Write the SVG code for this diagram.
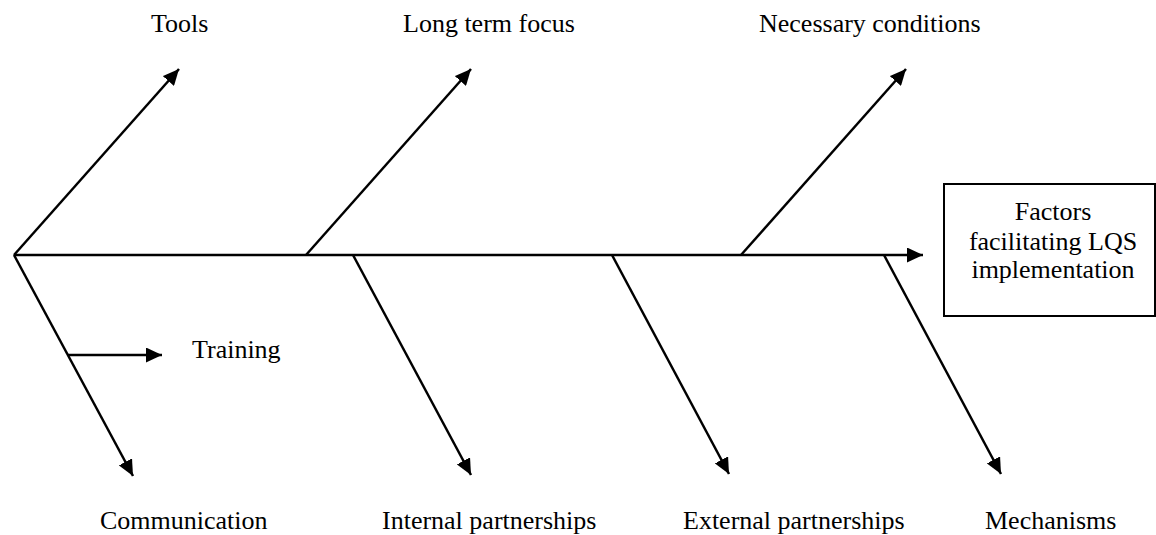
<svg xmlns="http://www.w3.org/2000/svg" width="1156" height="535" viewBox="0 0 1156 535">
  <defs>
    <marker id="arrow" markerUnits="userSpaceOnUse" markerWidth="17" markerHeight="15" refX="16" refY="7.5" orient="auto">
      <path d="M0,0 L16,7.5 L0,15 Z" fill="#000"/>
    </marker>
    <style>
      .bone { stroke: #000; stroke-width: 2.5; fill: none; marker-end: url(#arrow); }
      .lbl { font-family: "Liberation Serif", "Times New Roman", serif; font-size: 26px; fill: #000; }
      .box { fill: #fff; stroke: #000; stroke-width: 2; }
    </style>
  </defs>
  <rect width="1156" height="535" fill="#fff"/>

  <!-- spine and branches -->
  <g id="connectors">
    <line class="bone" x1="14" y1="255" x2="923" y2="255"/>
    <line class="bone" x1="14" y1="255" x2="179" y2="69"/>
    <line class="bone" x1="306" y1="255" x2="471" y2="69"/>
    <line class="bone" x1="741" y1="255" x2="906" y2="69"/>
    <line class="bone" x1="14" y1="255" x2="133" y2="476"/>
    <line class="bone" x1="68" y1="355" x2="162" y2="355"/>
    <line class="bone" x1="353" y1="255" x2="471" y2="475"/>
    <line class="bone" x1="612" y1="255" x2="729" y2="474"/>
    <line class="bone" x1="884" y1="255" x2="1001" y2="474"/>
  </g>

  <!-- effect box -->
  <g id="effect">
    <rect class="box" x="944" y="184" width="211" height="132"/>
    <text class="lbl" x="1053" y="220" text-anchor="middle">Factors</text>
    <text class="lbl" x="1053" y="250" text-anchor="middle">facilitating LQS</text>
    <text class="lbl" x="1053" y="278" text-anchor="middle">implementation</text>
  </g>

  <!-- cause labels -->
  <g id="tools"><text class="lbl" x="151" y="32">Tools</text></g>
  <g id="long-term-focus"><text class="lbl" x="403" y="32">Long term focus</text></g>
  <g id="necessary-conditions"><text class="lbl" x="759" y="32">Necessary conditions</text></g>
  <g id="training"><text class="lbl" x="192" y="358">Training</text></g>
  <g id="communication"><text class="lbl" x="100" y="529">Communication</text></g>
  <g id="internal-partnerships"><text class="lbl" x="382" y="529">Internal partnerships</text></g>
  <g id="external-partnerships"><text class="lbl" x="683" y="529">External partnerships</text></g>
  <g id="mechanisms"><text class="lbl" x="985" y="529">Mechanisms</text></g>
</svg>
